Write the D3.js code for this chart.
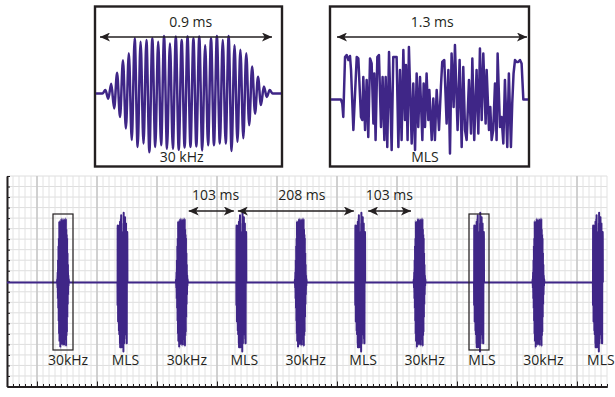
<!DOCTYPE html>
<html>
<head>
<meta charset="utf-8">
<script src="https://cdn.jsdelivr.net/npm/d3@7"></script>
<style>
  html, body { margin: 0; padding: 0; background: #fff; }
  svg { display: block; }
  text { font-family: "Open Sans", sans-serif; font-size: 14px; fill: #231f20; }
</style>
</head>
<body>
<div id="chart"></div>
<script>
// ---- data ----
// burst train, onset of each burst in ms
const burstTimes = [98, 202, 306, 410, 514, 618, 722, 826, 930, 1034];
const burstTypes = ["30kHz", "MLS", "30kHz", "MLS", "30kHz", "MLS", "30kHz", "MLS", "30kHz", "MLS"];
const boxedBursts = [0, 7]; // the two bursts shown enlarged above

// interval arrows (ms)
const intervalStart = [318, 404, 632];
const intervalEnd = [397, 607, 707];
const intervalLabels = ["103 ms", "208 ms", "103 ms"];
const intervalLabelAt = [365, 516, 669];

// 30 kHz tone: successive half-cycle peaks (relative amplitude)
const toneStart = 0.028;   // ms
const toneStep = 0.01536;  // ms between peaks
const tonePeaks = [0.06, -0.09, 0.17, -0.26, 0.36, -0.41, 0.58, -0.61, 0.70, -0.81,
  0.96, -0.93, 0.90, -0.87, 0.93, -1.02, 0.96, -0.93, 0.90, -0.90,
  1.0, -0.96, 0.87, -0.96, 0.99, -0.98, 0.93, -0.94, 0.99, -0.93,
  0.96, -0.92, 0.99, -0.99, 0.84, -0.90, 0.96, -0.90, 1.0, -0.87,
  0.93, -0.87, 1.0, -1.0, 0.84, -0.84, 0.76, -0.78, 0.70, -0.55,
  0.47, -0.35, 0.29, -0.20, 0.12, -0.06, 0.06];

// MLS: [time ms, relative amplitude]
const mlsPoints = [
  [0.027, 0], [0.036, -0.08], [0.043, -0.35], [0.055, 0.85], [0.066, 0.89], [0.078, 0.79],
  [0.089, 0.87], [0.096, 0.59], [0.112, -0.61], [0.135, 0.85], [0.146, 0.82], [0.164, -0.35],
  [0.173, -0.41], [0.180, 0.45], [0.192, -0.61], [0.203, 0.39], [0.214, -0.75], [0.226, 0.82],
  [0.237, 0.72], [0.249, -0.48], [0.255, 0.52], [0.264, -0.81], [0.276, 0.85], [0.287, 0.89],
  [0.301, -0.55], [0.312, 0.45], [0.324, -0.81], [0.333, 0.45], [0.344, -0.95], [0.356, 0.95],
  [0.374, -1.01], [0.385, 0.85], [0.408, 0.85], [0.420, -0.95], [0.431, 0.59], [0.442, -0.81],
  [0.454, 0.99], [0.465, -0.41], [0.472, 0.69], [0.483, -0.81], [0.492, 1.05], [0.511, -0.88],
  [0.522, 0.32], [0.534, -1.01], [0.545, 0.52], [0.556, -0.55], [0.568, 0.45], [0.584, -0.81],
  [0.593, 0.32], [0.602, -0.55], [0.613, 0.52], [0.625, -0.41], [0.632, 0.19], [0.648, -0.81],
  [0.659, 0.02], [0.670, -0.81], [0.682, 0.19], [0.698, -0.61], [0.711, 0.25], [0.720, 0.75],
  [0.734, 0.79], [0.750, -0.48], [0.762, 0.59], [0.773, -1.08], [0.784, 0.92], [0.798, -0.15],
  [0.807, 1.09], [0.825, -0.61], [0.839, 0.79], [0.853, -0.95], [0.864, 0.65], [0.876, -0.61],
  [0.887, -0.81], [0.903, 0.39], [0.917, -0.68], [0.926, 0.82], [0.939, -0.81], [0.955, 0.59],
  [0.967, -0.68], [0.978, 1.02], [0.990, -0.41], [1.001, 0.92], [1.017, -0.48], [1.024, 0.59],
  [1.040, -0.61], [1.049, -0.15], [1.058, -0.81], [1.069, -0.61], [1.081, 0.32], [1.092, -0.81],
  [1.099, 0.92], [1.115, -0.55], [1.126, -0.35], [1.138, -0.88], [1.149, 0.39], [1.165, -0.95],
  [1.176, 0.52], [1.190, -0.95], [1.199, -0.08], [1.208, 0.52], [1.218, 0.79], [1.229, 0.75],
  [1.240, 0.75], [1.252, 0.79], [1.263, 0.72], [1.275, 0]
];

// ---- setup ----
const W = 615, H = 397;
const purple = "#3f2687";
const ink = "#231f20";

const svg = d3.select("#chart").append("svg")
  .attr("width", W)
  .attr("height", H);

const defs = svg.append("defs");
defs.append("marker")
  .attr("id", "arrow")
  .attr("viewBox", "0 0 10 9")
  .attr("refX", 10)
  .attr("refY", 4.5)
  .attr("markerWidth", 10)
  .attr("markerHeight", 9)
  .attr("markerUnits", "userSpaceOnUse")
  .attr("orient", "auto-start-reverse")
  .append("path")
  .attr("d", "M0,0 L10,4.5 L0,9 L2.6,4.5 Z")
  .attr("fill", ink);

const tonePts = [[toneStart - toneStep, 0]]
  .concat(tonePeaks.map((v, i) => [toneStart + i * toneStep, v]))
  .concat([[toneStart + tonePeaks.length * toneStep, 0]]);

// ---- main trace panel ----
const plot = { left: 7, right: 607, top: 176, bottom: 386.5 };
const x = d3.scaleLinear().domain([0, 1050]).range([plot.left, plot.right]);
const gridY = d3.scaleLinear().domain([0, 20]).range([plot.top, plot.bottom]);
const y = d3.scaleLinear().domain([-1, 1]).range([346.5, 218.5]);

const minorT = d3.range(0, 1050.01, 10.5);
const majorT = d3.range(52.5, 1050, 105);

const grid = svg.append("g");
grid.selectAll("line.h")
  .data(d3.range(0, 21))
  .enter().append("line")
  .attr("x1", plot.left).attr("x2", plot.right)
  .attr("y1", d => gridY(d)).attr("y2", d => gridY(d))
  .attr("stroke", "#dedede").attr("stroke-width", 1);
grid.selectAll("line.v")
  .data(minorT)
  .enter().append("line")
  .attr("x1", d => x(d)).attr("x2", d => x(d))
  .attr("y1", plot.top).attr("y2", plot.bottom)
  .attr("stroke", "#e2e2e2").attr("stroke-width", 1);
grid.selectAll("line.major")
  .data(majorT)
  .enter().append("line")
  .attr("x1", d => x(d)).attr("x2", d => x(d))
  .attr("y1", plot.top).attr("y2", plot.bottom)
  .attr("stroke", "#c6c6c6").attr("stroke-width", 1.5);

// axes with inward ticks
const axisStyle = g => {
  g.select(".domain").attr("stroke", ink).attr("stroke-width", 2);
  g.selectAll(".tick line").attr("stroke", ink).attr("stroke-width", 1);
};
svg.append("g")
  .attr("transform", `translate(0,${plot.bottom})`)
  .call(d3.axisBottom(x).tickValues(minorT).tickSizeInner(-2.5).tickSizeOuter(0).tickFormat(""))
  .call(axisStyle);
svg.append("g")
  .attr("transform", `translate(0,${plot.bottom})`)
  .call(d3.axisBottom(x).tickValues(majorT).tickSizeInner(-5).tickSizeOuter(0).tickFormat(""))
  .call(axisStyle);
svg.append("g")
  .attr("transform", `translate(${plot.left},0)`)
  .call(d3.axisLeft(gridY).tickValues(d3.range(0, 20)).tickSizeInner(-3).tickSizeOuter(0).tickFormat(""))
  .call(axisStyle);

// baseline of the trace
svg.append("line")
  .attr("x1", x(0)).attr("x2", x(burstTimes[burstTimes.length - 1]))
  .attr("y1", y(0)).attr("y2", y(0))
  .attr("stroke", purple).attr("stroke-width", 2);

// bursts, each drawn from its own waveform squeezed into a narrow strip
burstTimes.forEach((t, i) => {
  const cx = x(t);
  let pts, half, curve;
  if (burstTypes[i] === "30kHz") {
    pts = tonePts; half = 6; curve = d3.curveMonotoneX;
  } else {
    pts = mlsPoints; half = 5; curve = d3.curveLinear;
  }
  const bx = d3.scaleLinear()
    .domain([pts[0][0], pts[pts.length - 1][0]])
    .range([cx - half, cx + half]);
  svg.append("path")
    .attr("d", d3.line().x(d => bx(d[0])).y(d => y(d[1])).curve(curve)(pts))
    .attr("fill", "none")
    .attr("stroke", purple)
    .attr("stroke-width", 2)
    .attr("stroke-linejoin", "round");
});

// highlight boxes
svg.selectAll("rect.hl")
  .data(boxedBursts)
  .enter().append("rect")
  .attr("x", d => x(burstTimes[d]) - 10)
  .attr("y", y(1) - 4.5)
  .attr("width", 20)
  .attr("height", y(-1) - y(1) + 8)
  .attr("fill", "none")
  .attr("stroke", ink)
  .attr("stroke-width", 1.2);

// burst labels
svg.selectAll("text.burst")
  .data(burstTimes)
  .enter().append("text")
  .attr("x", (d, i) => x(d) + (burstTypes[i] === "MLS" ? 3 : 5))
  .attr("y", 365)
  .attr("text-anchor", "middle")
  .text((d, i) => burstTypes[i]);

// interval arrows
intervalStart.forEach((s, i) => {
  svg.append("line")
    .attr("x1", x(s)).attr("x2", x(intervalEnd[i]))
    .attr("y1", 211).attr("y2", 211)
    .attr("stroke", ink).attr("stroke-width", 1.3)
    .attr("marker-start", "url(#arrow)")
    .attr("marker-end", "url(#arrow)");
  svg.append("text")
    .attr("x", x(intervalLabelAt[i]))
    .attr("y", 200)
    .attr("text-anchor", "middle")
    .text(intervalLabels[i]);
});

// ---- enlarged insets ----
function drawInset(opts) {
  const g = svg.append("g");
  const xs = d3.scaleLinear().domain([0, opts.span]).range([opts.arrowL, opts.arrowR]);
  const ys = d3.scaleLinear().domain([-1, 1]).range([opts.base + opts.amp, opts.base - opts.amp]);

  g.append("rect")
    .attr("x", opts.boxL).attr("y", 6.5)
    .attr("width", opts.boxR - opts.boxL).attr("height", 160)
    .attr("fill", "#fff")
    .attr("stroke", ink).attr("stroke-width", 2.4);

  const pts = [[xs.invert(opts.boxL + 1), 0]]
    .concat(opts.points)
    .concat([[xs.invert(opts.boxR - 1), 0]]);
  g.append("path")
    .attr("d", d3.line().x(d => xs(d[0])).y(d => ys(d[1])).curve(opts.curve)(pts))
    .attr("fill", "none")
    .attr("stroke", purple)
    .attr("stroke-width", 2.5)
    .attr("stroke-linejoin", "round");

  g.append("line")
    .attr("x1", xs(0)).attr("x2", xs(opts.span))
    .attr("y1", 37).attr("y2", 37)
    .attr("stroke", ink).attr("stroke-width", 1.3)
    .attr("marker-start", "url(#arrow)")
    .attr("marker-end", "url(#arrow)");

  g.append("text")
    .attr("x", xs(opts.spanLabelAt)).attr("y", 27)
    .attr("text-anchor", "middle")
    .text(opts.spanLabel);
  g.append("text")
    .attr("x", xs(opts.nameAt)).attr("y", 162)
    .attr("text-anchor", "middle")
    .text(opts.name);
}

drawInset({
  boxL: 95, boxR: 282, arrowL: 100, arrowR: 272,
  span: 0.9, spanLabel: "0.9 ms", spanLabelAt: 0.475,
  name: "30 kHz", nameAt: 0.427,
  base: 93.5, amp: 57.5,
  points: tonePts, curve: d3.curveMonotoneX
});

drawInset({
  boxL: 330, boxR: 529, arrowL: 337, arrowR: 527,
  span: 1.3, spanLabel: "1.3 ms", spanLabelAt: 0.652,
  name: "MLS", nameAt: 0.602,
  base: 99.5, amp: 50,
  points: mlsPoints, curve: d3.curveLinear
});
</script>
</body>
</html>
